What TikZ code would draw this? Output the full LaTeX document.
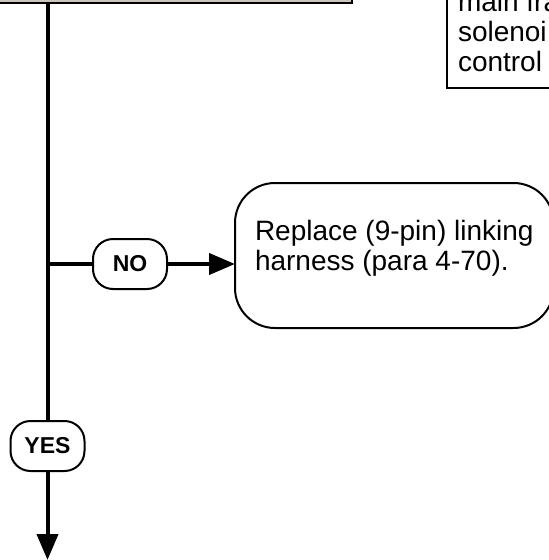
\documentclass[tikz,border=0pt]{standalone}
\usepackage{fontspec}
\setmainfont{Liberation Sans}
\usepackage{tikz}
\usetikzlibrary{arrows.meta,positioning}
\definecolor{boxgray}{HTML}{C9C5BD}

\begin{document}
\begin{tikzpicture}[x=1pt,y=-1pt,
  font=\fontsize{28}{30}\selectfont,
  flow/.style={line width=4pt},
  tip/.style={-{Triangle[length=26pt,width=21pt]}},
  answer/.style={draw,line width=2pt,rounded corners=20pt,minimum width=74pt,minimum height=50pt,
    inner sep=0pt,font=\fontsize{23}{23}\selectfont\bfseries},
  notebox/.style={draw,line width=2pt,align=left,inner xsep=11pt,inner ysep=16pt,outer sep=0pt},
  endbox/.style={draw,line width=2pt,rounded corners=40pt,align=left,inner xsep=20pt,inner ysep=0pt,
    minimum width=316pt,minimum height=145pt,outer sep=0pt}]
  \useasboundingbox (0,0) rectangle (549,560);
  \clip (0,0) rectangle (549,560);
  % boxes cut off at the top of the page
  \node[draw,line width=2pt,fill=boxgray,outer sep=0pt,minimum width=380pt,minimum height=60pt,anchor=south east] (chk) at (352,3) {};
  \node[notebox,anchor=south west] (valve) at (447,88) {main fra\\solenoi\\control};
  % answers
  \node[answer] (yes) at (47.5,446) {YES};
  \node[answer] (no) at (130,264) {NO};
  \node[endbox,anchor=north west] (repl) at (235,183) {Replace (9-pin) linking\\harness (para 4-70).\rule[-21pt]{0pt}{0pt}};
  \coordinate (out) at (47.5,560);
  \draw[flow] (yes.north |- chk.south) -- (yes.north);
  \draw[flow] (yes.north |- no) -- (no.west);
  \draw[flow,tip] (no.east) -- (repl.west |- no);
  \draw[flow,tip] (yes.south) -- (out);
\end{tikzpicture}
\end{document}
